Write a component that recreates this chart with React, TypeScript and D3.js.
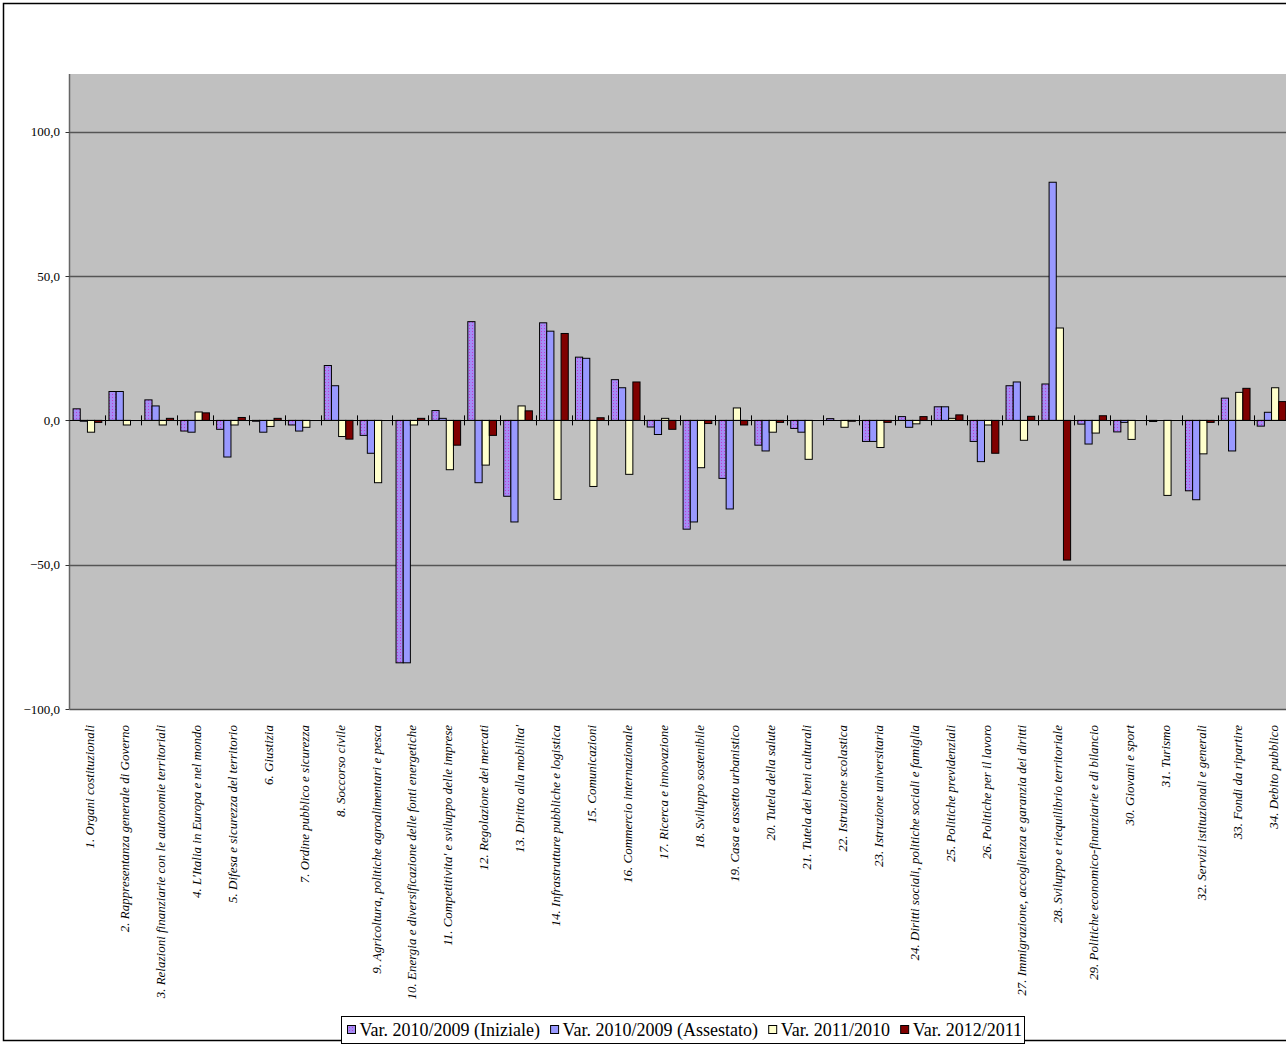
import React from "react";
import * as d3 from "d3";

const categories = [
  "1. Organi costituzionali",
  "2. Rappresentanza generale di Governo",
  "3. Relazioni finanziarie con le autonomie territoriali",
  "4. L'Italia in Europa e nel mondo",
  "5. Difesa e sicurezza del territorio",
  "6. Giustizia",
  "7. Ordine pubblico e sicurezza",
  "8. Soccorso civile",
  "9. Agricoltura, politiche agroalimentari e pesca",
  "10. Energia e diversificazione delle fonti energetiche",
  "11. Competitivita' e sviluppo delle imprese",
  "12. Regolazione dei mercati",
  "13. Diritto alla mobilita'",
  "14. Infrastrutture pubbliche e logistica",
  "15. Comunicazioni",
  "16. Commercio internazionale",
  "17. Ricerca e innovazione",
  "18. Sviluppo sostenibile",
  "19. Casa e assetto urbanistico",
  "20. Tutela della salute",
  "21. Tutela dei beni culturali",
  "22. Istruzione scolastica",
  "23. Istruzione universitaria",
  "24. Diritti sociali, politiche sociali e famiglia",
  "25. Politiche previdenziali",
  "26. Politiche per il lavoro",
  "27. Immigrazione, accoglienza e garanzia dei diritti",
  "28. Sviluppo e riequilibrio territoriale",
  "29. Politiche economico-finanziarie e di bilancio",
  "30. Giovani e sport",
  "31. Turismo",
  "32. Servizi istituzionali e generali",
  "33. Fondi da ripartire",
  "34. Debito pubblico",
];

const iniziale = [4.0, 10.0, 7.1, -3.7, -3.1, -0.3, -1.6, 19.0, -5.2, -84.0, 3.4, 34.2, -26.3, 33.8, 21.9, 14.1, -2.3, -37.7, -20.1, -8.6, -2.8, 0.6, -7.3, 1.3, 4.7, -7.3, 12.0, 12.6, -1.3, -4.0, -0.4, -24.4, 7.7, -2.0];
const assestato = [-0.3, 10.0, 5.0, -4.1, -12.7, -4.1, -3.7, 12.0, -11.4, -84.0, 0.7, -21.6, -35.2, 30.9, 21.5, 11.3, -4.9, -35.2, -30.7, -10.6, -4.1, 0.0, -7.3, -2.4, 4.7, -14.3, 13.3, 82.5, -8.2, -0.7, 0.0, -27.5, -10.6, 2.8];
const var2011 = [-4.1, -1.6, -1.6, 2.9, -1.6, -2.1, -2.4, -5.6, -21.6, -1.6, -17.1, -15.5, 5.0, -27.4, -22.9, -18.7, 0.7, -16.4, 4.3, -4.1, -13.5, -2.4, -9.4, -1.2, 0.7, -1.6, -6.9, 32.0, -4.4, -6.6, -26.0, -11.6, 9.7, 11.3];
const var2012 = [-0.7, 0.0, 0.7, 2.6, 1.0, 0.7, 0.0, -6.5, 0.0, 0.7, -8.6, -5.2, 3.3, 30.1, 0.9, 13.3, -3.1, -1.1, -1.6, -0.7, 0.0, -0.3, -0.7, 1.3, 1.9, -11.4, 1.4, -48.4, 1.6, 0.0, 0.0, -0.7, 11.1, 6.5];

const seriesNames = [
  "Var. 2010/2009 (Iniziale)",
  "Var. 2010/2009 (Assestato)",
  "Var. 2011/2010",
  "Var. 2012/2011",
];
const seriesValues = [iniziale, assestato, var2011, var2012];
const seriesFills = ["url(#dotPattern)", "#9999FF", "#FFFFCC", "#800000"];

const yTicks = [-100, -50, 0, 50, 100];

const W = 1286;
const H = 1052;
const plotLeft = 69.5;
const plotRight = 1289.5;
const plotTop = 74;
const plotBottom = 709;
const FONT = "'Liberation Serif', 'Times New Roman', serif";
const LEGEND_FS = 18;

function measure(text: string, font: string): number {
  if (typeof document === "undefined") return text.length * 8;
  const c = document.createElement("canvas");
  const ctx = c.getContext("2d");
  if (!ctx) return text.length * 8;
  ctx.font = font;
  return ctx.measureText(text).width;
}

export default function App() {
  const x = d3
    .scaleBand<string>()
    .domain(categories)
    .range([plotLeft, plotRight])
    .paddingInner(0)
    .paddingOuter(0);
  const y = d3.scaleLinear().domain([-100, 120]).range([plotBottom, plotTop]);
  const step = x.step();
  const barW = step / 5;
  const fmt = (v: number) => d3.format(".1f")(v).replace(".", ",");

  // legend layout
  const legLeft = 341.5;
  const legRight = 1024.5;
  const startX = 347.5;
  const endX = 1022;
  const sw = 8;
  const swGap = 4;
  const widths = seriesNames.map((n) => measure(n, `${LEGEND_FS}px 'Liberation Serif'`));
  const totalText = d3.sum(widths);
  const itemGap = Math.max(3, (endX - startX - seriesNames.length * (sw + swGap) - totalText) / (seriesNames.length - 1));
  let cursor = startX;
  const legendItems = widths.map((w) => {
    const item = { sx: cursor, tx: cursor + sw + swGap };
    cursor += sw + swGap + w + itemGap;
    return item;
  });

  return (
    <div style={{ position: "absolute", left: 0, top: 0, width: W, height: H, overflow: "hidden" }}>
      <svg width={W} height={H} style={{ display: "block" }}>
        <defs>
          <pattern id="dotPattern" width="3" height="3" patternUnits="userSpaceOnUse">
            <rect width="3" height="3" fill="#A58CF5" />
            <rect x="1" y="1" width="1" height="1" fill="#C03CD0" />
          </pattern>
        </defs>
        <rect x={0} y={0} width={W} height={H} fill="#FFFFFF" />
        <rect x={3.5} y={3.5} width={W + 10} height={1037} fill="none" stroke="#000" strokeWidth={1.5} />
        {/* plot area */}
        <rect x={plotLeft} y={plotTop} width={plotRight - plotLeft} height={plotBottom - plotTop} fill="#C0C0C0" />
        {/* gridlines */}
        {yTicks.filter((t) => t !== 0).map((t) => (
          <line key={"g" + t} x1={plotLeft} x2={plotRight} y1={Math.round(y(t)) + 0.5} y2={Math.round(y(t)) + 0.5} stroke="#555555" strokeWidth={1.3} />
        ))}
        {/* y axis */}
        <line x1={plotLeft} x2={plotLeft} y1={plotTop} y2={plotBottom} stroke="#666666" strokeWidth={1.5} />
        {yTicks.map((t) => (
          <g key={"t" + t}>
            <line x1={plotLeft - 4} x2={plotLeft} y1={Math.round(y(t)) + 0.5} y2={Math.round(y(t)) + 0.5} stroke="#333" strokeWidth={1} />
            <text x={60} y={y(t)} dy="0.35em" textAnchor="end" fontFamily={FONT} fontSize={13} fill="#000">
              {fmt(t)}
            </text>
          </g>
        ))}
        {/* bars */}
        {seriesValues.map((vals, si) => (
          <g key={"s" + si}>
            {vals.map((v, i) => {
              const bx = (x(categories[i]) as number) + barW * 0.5 + si * barW;
              const y0 = y(0);
              const y1 = y(v);
              return (
                <rect
                  key={i}
                  x={bx}
                  y={Math.min(y0, y1)}
                  width={barW}
                  height={Math.abs(y1 - y0)}
                  fill={seriesFills[si]}
                  stroke="#000"
                  strokeWidth={1}
                />
              );
            })}
          </g>
        ))}
        {/* zero axis */}
        <line x1={plotLeft} x2={plotRight} y1={Math.round(y(0)) + 0.5} y2={Math.round(y(0)) + 0.5} stroke="#000" strokeWidth={1} />
        {categories.map((c, i) => {
          const tx = Math.round(x(c) as number) + 0.5;
          return i === 0 ? null : (
            <line key={"xt" + i} x1={tx} x2={tx} y1={y(0) - 5} y2={y(0) + 5} stroke="#000" strokeWidth={1} />
          );
        })}
        {/* category labels */}
        {categories.map((c) => {
          const cx = (x(c) as number) + step / 2 + 1.5;
          return (
            <text
              key={"l" + c}
              transform={`translate(${cx},725) rotate(-90)`}
              dy="0.35em"
              textAnchor="end"
              fontFamily={FONT}
              fontStyle="italic"
              fontSize={13}
              fill="#000"
            >
              {c}
            </text>
          );
        })}
        {/* legend */}
        <rect x={legLeft} y={1016.5} width={legRight - legLeft} height={27} fill="#FFFFFF" stroke="#000" strokeWidth={1} />
        {seriesNames.map((n, i) => (
          <g key={"lg" + i}>
            <rect x={legendItems[i].sx} y={1025.5} width={sw} height={sw} fill={seriesFills[i]} stroke="#000" strokeWidth={1} />
            <text x={legendItems[i].tx} y={1030} dy="0.35em" fontFamily={FONT} fontSize={LEGEND_FS} fill="#000">
              {n}
            </text>
          </g>
        ))}
      </svg>
    </div>
  );
}
